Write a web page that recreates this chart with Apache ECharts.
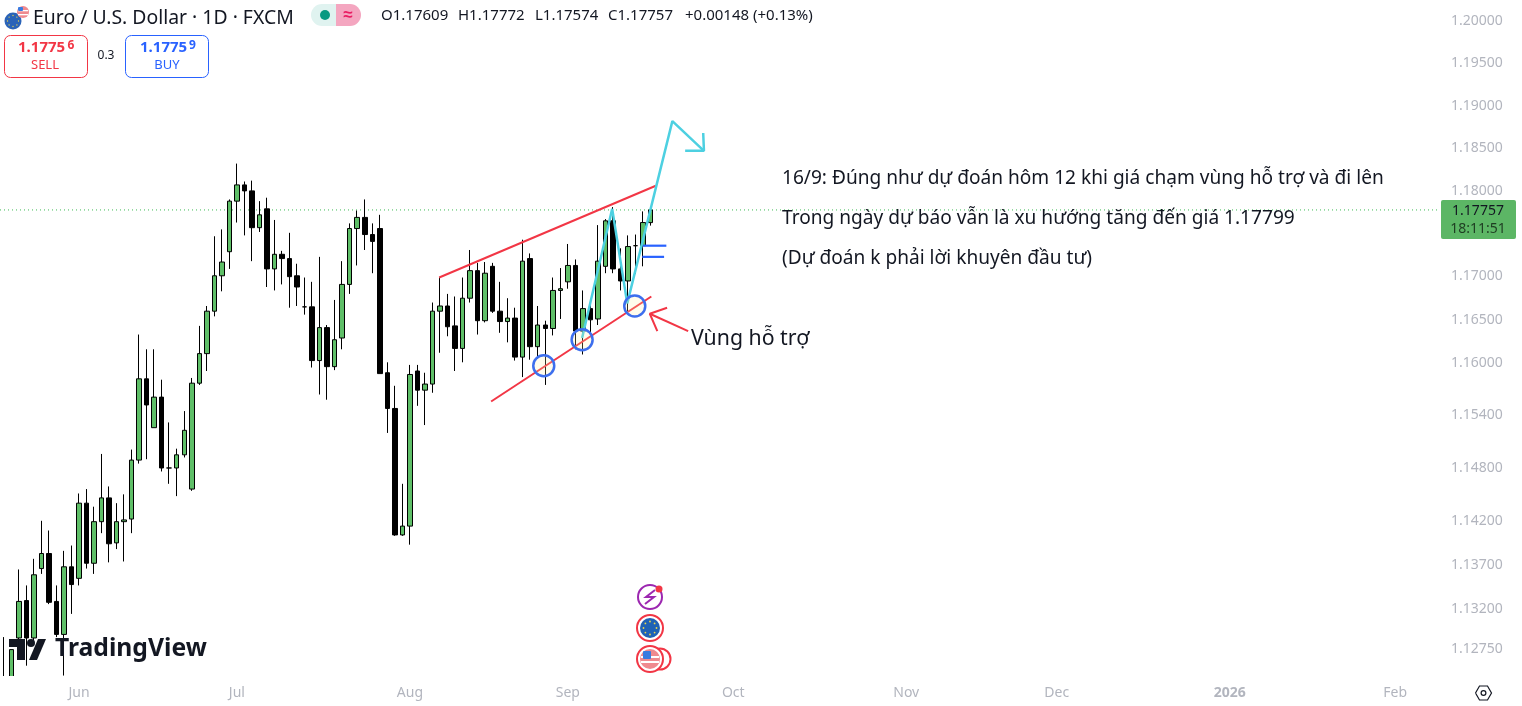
<!DOCTYPE html>
<html><head><meta charset="utf-8">
<style>html,body{margin:0;padding:0;background:#fff}#c{width:1522px;height:706px}</style>
<script src="https://cdn.jsdelivr.net/npm/echarts@6/dist/echarts.min.js"></script>
</head><body><div id="c"></div>
<script>
const opens=[1.1215,1.1222,1.1286,1.1328,1.1286,1.1364,1.1381,1.1327,1.1290,1.1366,1.1353,1.1438,1.1370,1.1417,1.1444,1.1393,1.1417,1.1420,1.1487,1.1580,1.1524,1.1559,1.1478,1.1478,1.1493,1.1454,1.1575,1.1609,1.1658,1.1699,1.1727,1.1786,1.1805,1.1798,1.1755,1.1777,1.1707,1.1724,1.1719,1.1699,1.1663,1.1663,1.1601,1.1639,1.1594,1.1627,1.1689,1.1754,1.1767,1.1747,1.1754,1.1587,1.1546,1.1402,1.1412,1.1589,1.1567,1.1574,1.1658,1.1664,1.1641,1.1615,1.1673,1.1705,1.1647,1.1710,1.1658,1.1646,1.1650,1.1605,1.1719,1.1617,1.1642,1.1638,1.1682,1.1692,1.1711,1.1635,1.1661,1.1649,1.1710,1.1763,1.1707,1.1693,1.1734,1.1734,1.17609];
const closes=[1.1230,1.1273,1.1327,1.1286,1.1357,1.1381,1.1326,1.1290,1.1366,1.1346,1.1438,1.1370,1.1417,1.1444,1.1392,1.1417,1.1419,1.1487,1.1580,1.1550,1.1559,1.1478,1.1478,1.1493,1.1521,1.1575,1.1609,1.1658,1.1699,1.1715,1.1786,1.1805,1.1798,1.1755,1.1770,1.1707,1.1724,1.1719,1.1698,1.1686,1.1663,1.1601,1.1639,1.1594,1.1625,1.1689,1.1754,1.1767,1.1747,1.1739,1.1586,1.1546,1.1402,1.1412,1.1585,1.1567,1.1574,1.1658,1.1664,1.1640,1.1615,1.1673,1.1705,1.1647,1.1702,1.1658,1.1646,1.1650,1.1605,1.1716,1.1617,1.1642,1.1638,1.1682,1.1684,1.1711,1.1635,1.1661,1.1648,1.1716,1.1763,1.1707,1.1693,1.1733,1.1734,1.1761,1.17757];
const lows=[1.1205,1.1215,1.1283,1.1255,1.1283,1.1358,1.1324,1.1287,1.1244,1.1313,1.1345,1.1364,1.1358,1.1404,1.1371,1.1386,1.1372,1.1404,1.1483,1.1488,1.1524,1.1474,1.1460,1.1446,1.1490,1.1452,1.1573,1.1589,1.1652,1.1681,1.1707,1.1761,1.1746,1.1716,1.1750,1.1686,1.1682,1.1689,1.1662,1.1664,1.1654,1.1593,1.1562,1.1556,1.1590,1.1614,1.1678,1.1711,1.1729,1.1702,1.1586,1.1518,1.1401,1.1401,1.1391,1.1549,1.1527,1.1564,1.1610,1.1629,1.1589,1.1599,1.1668,1.1631,1.1645,1.1656,1.1633,1.1622,1.1601,1.1582,1.1602,1.1603,1.1573,1.1630,1.1649,1.1684,1.1614,1.1608,1.1632,1.1642,1.1702,1.1702,1.1682,1.1656,1.1701,1.1710,1.17574];
const highs=[1.1287,1.1273,1.1363,1.1345,1.1375,1.1418,1.1407,1.1345,1.1384,1.1390,1.1449,1.1454,1.1434,1.1494,1.1457,1.1438,1.1448,1.1499,1.1631,1.1614,1.1614,1.1579,1.1530,1.1500,1.1543,1.1581,1.1641,1.1664,1.1745,1.1753,1.1788,1.1830,1.1809,1.1810,1.1786,1.1790,1.1764,1.1728,1.1749,1.1713,1.1697,1.1692,1.1721,1.1642,1.1671,1.1716,1.1760,1.1775,1.1788,1.1760,1.1770,1.1599,1.1572,1.1460,1.1596,1.1596,1.1587,1.1668,1.1697,1.1678,1.1675,1.1697,1.1729,1.1714,1.1715,1.1714,1.1692,1.1673,1.1662,1.1741,1.1725,1.1664,1.1647,1.1697,1.1708,1.1736,1.1718,1.1682,1.1668,1.1758,1.1765,1.1779,1.1731,1.1746,1.1747,1.1774,1.17772];

const priceTicks=[1.2,1.195,1.19,1.185,1.18,1.17,1.165,1.16,1.154,1.148,1.142,1.137,1.132,1.1275];
const monthTicks={'2025-06-02':'Jun','2025-07-01':'Jul','2025-08-01':'Aug','2025-09-01':'Sep','2025-10-01':'Oct','2025-11-03':'Nov','2025-12-01':'Dec','2026-01-01':'2026','2026-02-02':'Feb'};
const lastPrice=1.17757, priceMin=1.12435, priceMax=1.20236;

// drawings: [bar index, price]
const lastPriceLine=[[-0.5,lastPrice],[190.9,lastPrice]];
const upperTrend=[[57.9,1.1697],[86.7,1.1804]];
const lowerTrend=[[64.8,1.1554],[86.1,1.1675]];
const zigzag=[[76.9,1.1627],[80.9,1.1777],[82.9,1.1667],[88.9,1.1880],[93.1,1.1845]];
const arrowHead=[[93.0,1.1866],[93.1,1.1845],[90.6,1.1845]];
const blueLine1=[[85.0,1.1734],[88.1,1.1734]];
const blueLine2=[[84.9,1.1721],[87.8,1.1721]];
const redArrowShaft=[[85.9,1.1655],[91.0,1.1635]];
const redArrowHead=[[88.2,1.1662],[85.9,1.1655],[86.9,1.1635]];
const circles=[[71.8,1.1595],[76.9,1.1625],[83.9,1.1664]];

const categories=[];
for(let d=new Date(Date.UTC(2025,4,19));categories.length<192;d=new Date(d.getTime()+864e5)){
  const w=d.getUTCDay(); if(w!==0&&w!==6) categories.push(d.toISOString().slice(0,10));
}
const L=Math.log;
const candles=opens.map((o,i)=>[L(o),L(closes[i]),L(lows[i]),L(highs[i])]);
const pts=a=>a.map(p=>[p[0],L(p[1])]);
const GREY='#b2b5be', INK='#131722', F='"Noto Sans",sans-serif';
function line(data,color,width,z,type){return {type:'line',xAxisIndex:1,data:pts(data),symbol:'none',silent:true,z:z||4,animation:false,lineStyle:{color:color,width:width,type:type||'solid'}};}
function txt(x,y,s,size,color,extra){return {type:'text',x:x,y:y,z:50,style:{text:s,font:(extra&&extra.weight||'normal')+' '+size+'px '+F,fill:color,textVerticalAlign:'middle',textAlign:extra&&extra.align||'left'}};}
function circ(cx,cy,r,fill,stroke,lw){return {type:'circle',z:40,shape:{cx:cx,cy:cy,r:r},style:{fill:fill||'none',stroke:stroke||'none',lineWidth:lw||0}};}
function rr(x,y,w,h,r,fill,stroke,lw){return {type:'rect',z:40,shape:{x:x,y:y,width:w,height:h,r:r},style:{fill:fill||'none',stroke:stroke||'none',lineWidth:lw||0}};}
function poly(points,fill,stroke,lw){return {type:'polyline',z:42,shape:{points:points},style:{fill:fill||'none',stroke:stroke||'none',lineWidth:lw||0}};}
function polygon(points,fill){return {type:'polygon',z:42,shape:{points:points},style:{fill:fill}};}
function starRing(cx,cy,r,size){const o=[];for(let k=0;k<8;k++){const a=k*Math.PI/4;o.push(Object.assign(circ(cx+r*Math.cos(a),cy+r*Math.sin(a),size,'#e8d44d'),{z:41}));}return o;}

const graphics=[
  // clip the candles that run below the plot
  rr(0,676,60,30,0,'#fff'),
  // header
  circ(13,21,8.5,'#2a63b8'),...starRing(13,21,5.5,.7),circ(23,12,6,'#ef8a8f'),rr(18,10,10,1.3,0,'#fff'),rr(18,14,10,1.3,0,'#fff'),rr(18,7,5,4,1,'#3a7be0'),
  txt(33,18,'Euro / U.S. Dollar · 1D · FXCM',19.4,INK),
  rr(311,4,27,22,[11,0,0,11],'#e0f3f0'),rr(336,4,25,22,[0,11,11,0],'#f4a6c0'),
  circ(325,15,5,'#089981'),txt(348,15,'≈',17,'#e91e63',{align:'center',weight:'bold'}),
  txt(381,16,'O1.17609',15,INK),txt(458,16,'H1.17772',15,INK),txt(535,16,'L1.17574',15,INK),txt(608,16,'C1.17757',15,INK),txt(685,16,'+0.00148 (+0.13%)',15,INK),
  rr(4.5,35.5,83,42,6,'#fff','#f23645',1),rr(125.5,35.5,83,42,6,'#fff','#2962ff',1),
  txt(18,48,'1.1775',15,'#f23645',{weight:'bold'}),txt(67.5,46,'6',12,'#f23645',{weight:'bold'}),txt(45,65,'SELL',13,'#f23645',{align:'center'}),
  txt(140,48,'1.1775',15,'#2962ff',{weight:'bold'}),txt(189,46,'9',12,'#2962ff',{weight:'bold'}),txt(167,65,'BUY',13,'#2962ff',{align:'center'}),
  txt(106,56,'0.3',12,INK,{align:'center'}),
  // notes
  txt(782,179,'16/9: Đúng như dự đoán hôm 12 khi giá chạm vùng hỗ trợ và đi lên',19.1,INK),
  txt(782,219,'Trong ngày dự báo vẫn là xu hướng tăng đến giá 1.17799',19.1,INK),
  txt(782,259,'(Dự đoán k phải lời khuyên đầu tư)',19.1,INK),
  txt(691,339,'Vùng hỗ trợ',21.3,INK),
  // price tag
  rr(1441,200,75,39,2,'#5cb665'),
  txt(1478,211,'1.17757',14,INK,{align:'center'}),txt(1478,229,'18:11:51',14,'#1f3d22',{align:'center'}),
  // logo
  polygon([[9,639],[25,639],[25,660],[17,660],[17,647],[9,647]],INK),
  circ(31,643,4,INK),polygon([[38,639],[46,639],[37,660],[29,660]],INK),
  txt(55,649,'TradingView',24.7,INK,{weight:'bold'}),
  // event icons
  circ(650,597,12,'#fff','#9c27b0',2),poly([[655,590],[646,597],[654,597],[645,604]],'none','#9c27b0',2),circ(659,589,3.5,'#f23645'),
  circ(650,628,13,'#fff','#f23645',2),circ(650,628,10,'#1f62b5'),...starRing(650,628,6.5,.9),
  circ(660,659,10.5,'#fff','#f23645',2),circ(650,659,13,'#fff','#f23645',2),circ(650,659,10,'#ef8a8f'),
  rr(641,656,18,2,0,'#fff'),rr(641,661,18,2,0,'#fff'),rr(643,651,8,8,1,'#3a7be0'),
  // settings
  poly([[1475.5,693],[1479.5,686],[1487.5,686],[1491.5,693],[1487.5,700],[1479.5,700],[1475.5,693]],'none',INK,1.2),circ(1483.5,693,2.4,'#fff',INK,1.2)
];

const chart=echarts.init(document.getElementById('c'),null,{renderer:'canvas'});
chart.setOption({
  animation:false,backgroundColor:'#fff',
  grid:{left:0,top:0,width:1444,height:676,containLabel:false},
  xAxis:[
    {type:'category',data:categories,boundaryGap:true,axisLine:{show:false},axisTick:{show:false},splitLine:{show:false},
     axisLabel:{margin:10,fontSize:14,fontFamily:F,color:GREY,hideOverlap:false,
       interval:(i,v)=>v in monthTicks,
       formatter:v=>{const t=monthTicks[v]||'';return t==='2026'?'{y|2026}':t;},
       rich:{y:{fontSize:14,fontWeight:'bold',color:GREY,fontFamily:F}}}},
    {type:'value',min:-0.5,max:191.5,show:false}
  ],
  yAxis:{type:'value',position:'right',min:L(priceMin),max:L(priceMax),scale:true,axisLine:{show:false},axisTick:{show:false},splitLine:{show:false},
    axisLabel:{margin:7,fontSize:14,fontFamily:F,color:GREY,customValues:priceTicks.map(L),formatter:v=>'{v|'+Math.exp(v).toFixed(5)+'}',
      rich:{v:{fontSize:14,fontFamily:F,color:GREY,padding:[3,0,0,0]}}}},
  series:[
    line(lastPriceLine,'#3dbb55',1,1,[1,3]),
    {type:'candlestick',data:candles,barWidth:5,z:2,silent:true,
     itemStyle:{color:'#5fbf68',color0:'#000',borderColor:'#000',borderColor0:'#000',borderColorDoji:'#000',borderWidth:1}},
    line(upperTrend,'#f23645',2,3),line(lowerTrend,'#f23645',2,3),
    line(zigzag,'#4dd0e1',2.5,5),line(arrowHead,'#4dd0e1',2.5,5),
    line(blueLine1,'#2962ff',2.2,4),line(blueLine2,'#2962ff',2.2,4),
    line(redArrowShaft,'#f23645',2,4),line(redArrowHead,'#f23645',2,4),
    {type:'scatter',xAxisIndex:1,data:pts(circles),symbol:'circle',symbolSize:21,silent:true,z:6,
     itemStyle:{color:'rgba(255,240,160,0.2)',borderColor:'#3d6fee',borderWidth:2.5,opacity:1}}
  ],
  graphic:graphics
});
</script></body></html>
